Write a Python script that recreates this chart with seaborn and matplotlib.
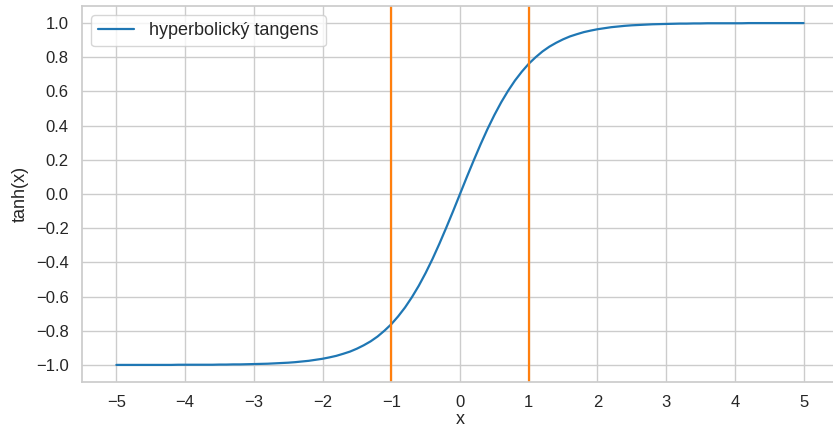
import matplotlib
matplotlib.use("Agg")
import matplotlib.pyplot as plt
import seaborn as sns
import pandas as pd

# Sampled points of the hyperbolic tangent curve
x_vals = [-5.0, -4.9, -4.8, -4.7, -4.6, -4.5, -4.4, -4.3, -4.2, -4.1,
          -4.0, -3.9, -3.8, -3.7, -3.6, -3.5, -3.4, -3.3, -3.2, -3.1,
          -3.0, -2.9, -2.8, -2.7, -2.6, -2.5, -2.4, -2.3, -2.2, -2.1,
          -2.0, -1.9, -1.8, -1.7, -1.6, -1.5, -1.4, -1.3, -1.2, -1.1,
          -1.0, -0.9, -0.8, -0.7, -0.6, -0.5, -0.4, -0.3, -0.2, -0.1,
          0.0, 0.1, 0.2, 0.3, 0.4, 0.5, 0.6, 0.7, 0.8, 0.9,
          1.0, 1.1, 1.2, 1.3, 1.4, 1.5, 1.6, 1.7, 1.8, 1.9,
          2.0, 2.1, 2.2, 2.3, 2.4, 2.5, 2.6, 2.7, 2.8, 2.9,
          3.0, 3.1, 3.2, 3.3, 3.4, 3.5, 3.6, 3.7, 3.8, 3.9,
          4.0, 4.1, 4.2, 4.3, 4.4, 4.5, 4.6, 4.7, 4.8, 4.9, 5.0]
y_vals = [-1.000, -1.000, -1.000, -1.000, -1.000, -1.000, -1.000, -1.000, -1.000, -0.999,
          -0.999, -0.999, -0.999, -0.999, -0.999, -0.998, -0.998, -0.997, -0.997, -0.996,
          -0.995, -0.994, -0.993, -0.991, -0.989, -0.987, -0.984, -0.980, -0.976, -0.970,
          -0.964, -0.956, -0.947, -0.935, -0.922, -0.905, -0.885, -0.862, -0.834, -0.800,
          -0.762, -0.716, -0.664, -0.604, -0.537, -0.462, -0.380, -0.291, -0.197, -0.100,
          0.000, 0.100, 0.197, 0.291, 0.380, 0.462, 0.537, 0.604, 0.664, 0.716,
          0.762, 0.800, 0.834, 0.862, 0.885, 0.905, 0.922, 0.935, 0.947, 0.956,
          0.964, 0.970, 0.976, 0.980, 0.984, 0.987, 0.989, 0.991, 0.993, 0.994,
          0.995, 0.996, 0.997, 0.997, 0.998, 0.998, 0.999, 0.999, 0.999, 0.999,
          0.999, 0.999, 1.000, 1.000, 1.000, 1.000, 1.000, 1.000, 1.000, 1.000, 1.000]
marker_lines = [-1, 1]
x_ticks = [-5, -4, -3, -2, -1, 0, 1, 2, 3, 4, 5]
y_ticks = [-1.0, -0.8, -0.6, -0.4, -0.2, 0.0, 0.2, 0.4, 0.6, 0.8, 1.0]

sns.set_theme(style="whitegrid")
plt.rcParams["font.family"] = ["Liberation Sans", "DejaVu Sans"]
plt.rcParams["axes.unicode_minus"] = True

df = pd.DataFrame({"x": x_vals, "tanh(x)": y_vals})

fig = plt.figure(figsize=(8.33, 4.29), dpi=100)
W, H = 833, 429
ax = fig.add_axes([82 / W, (H - 382) / H, (838 - 82) / W, (382 - 6) / H])

sns.lineplot(data=df, x="x", y="tanh(x)", ax=ax, color="#1f77b4",
             linewidth=1.6, label="hyperbolický tangens")
for xv in marker_lines:
    ax.axvline(xv, color="#ff7f0e", linewidth=1.6)

ax.set_xlim(-5.5, 5.5)
ax.set_ylim(-1.1, 1.1)
ax.set_xticks(x_ticks)
ax.set_yticks(y_ticks)
ax.set_yticklabels([f"{v:.1f}".replace("-", "\u2212") for v in y_ticks])
ax.tick_params(labelsize=12)
ax.set_xlabel("x", fontsize=13, labelpad=0.5)
ax.set_ylabel("tanh(x)", fontsize=13, labelpad=5)
ax.legend(loc="upper left", fontsize=13)

fig.savefig("out.png", dpi=100)
